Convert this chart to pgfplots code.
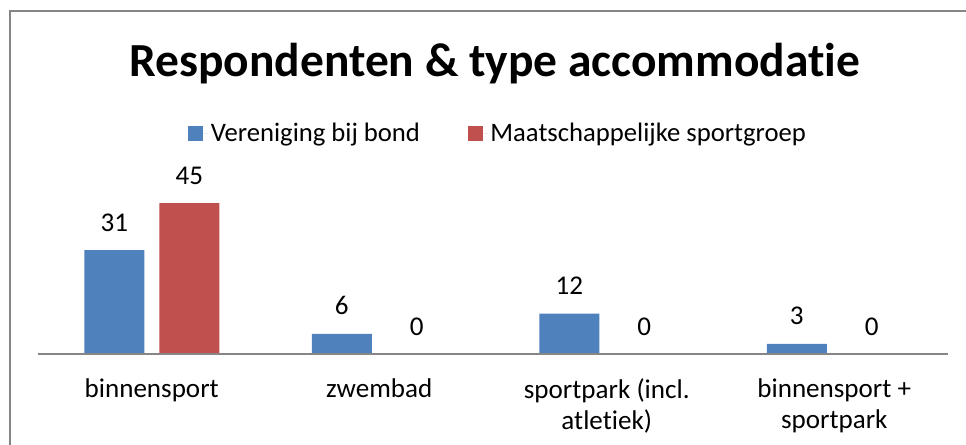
\documentclass[border=0pt]{standalone}
\usepackage{pgfplots}
\pgfplotsset{compat=1.18}
\usepackage{fontspec}
\setmainfont{Carlito}[Ligatures=NoCommon]
\definecolor{xlblue}{HTML}{4F81BD}
\definecolor{xlred}{HTML}{C0504D}
\definecolor{xlgray}{HTML}{868686}
\begin{document}
\begin{tikzpicture}
\useasboundingbox (0,0) rectangle (724.5pt,-333.75pt);
\fill[white] (0,0) rectangle (724.5pt,-333.75pt);
\draw[xlgray, line width=1.5pt] (7.5pt,-400pt) -- (7.5pt,-8.25pt) -- (800pt,-8.25pt);
\node[font=\fontsize{35.6}{42}\selectfont\bfseries] at (371pt,-47.5pt) {Respondenten \& type accommodatie};
\begin{axis}[
  at={(28.5pt,-265.5pt)}, anchor=south west,
  scale only axis, width=682.5pt, height=125.8pt,
  xmin=-0.5, xmax=3.5, ymin=0, ymax=50,
  axis x line*=bottom, axis y line=none,
  x axis line style={xlgray, line width=1.1pt},
  axis on top,
  clip=false,
  bar width=45pt,
  xtick={0,1,2,3},
  xticklabels={binnensport, zwembad, {sportpark (incl.\\atletiek)}, {binnensport +\\sportpark}},
  xtick style={draw=none},
  major tick length=0pt,
  xticklabel style={align=center, font=\fontsize{20.3}{23.25}\selectfont, inner sep=0pt, anchor=north, yshift=-18pt},
  /pgf/number format/assume math mode=true,
  nodes near coords,
  every node near coord/.append style={font=\fontsize{20.3}{24}\selectfont, anchor=base, inner sep=0pt, yshift=14.25pt},
  legend columns=2,
  legend style={at={(rel axis cs:0.5,1)}, anchor=center, yshift=39.75pt, xshift=4pt, draw=none, fill=none,
    font=\fontsize{20}{23}\selectfont,
    /tikz/every even column/.append style={column sep=33.75pt}},
  legend image code/.code={\fill[#1] (0pt,-5.6pt) rectangle (11.25pt,5.6pt); \path (0pt,0pt) -- (15pt,0pt);},
]
\addplot[ybar, bar shift=-28.125pt, fill=xlblue, draw=none,
  every node near coord/.append style={xshift=-28.125pt}] coordinates {(0,31) (1,6) (2,12) (3,3)};
\addlegendentry{Vereniging bij bond}
\addplot[ybar, bar shift=28.125pt, fill=xlred, draw=none,
  every node near coord/.append style={xshift=28.125pt}] coordinates {(0,45) (1,0) (2,0) (3,0)};
\addlegendentry{Maatschappelijke sportgroep}
\end{axis}
\end{tikzpicture}
\end{document}
